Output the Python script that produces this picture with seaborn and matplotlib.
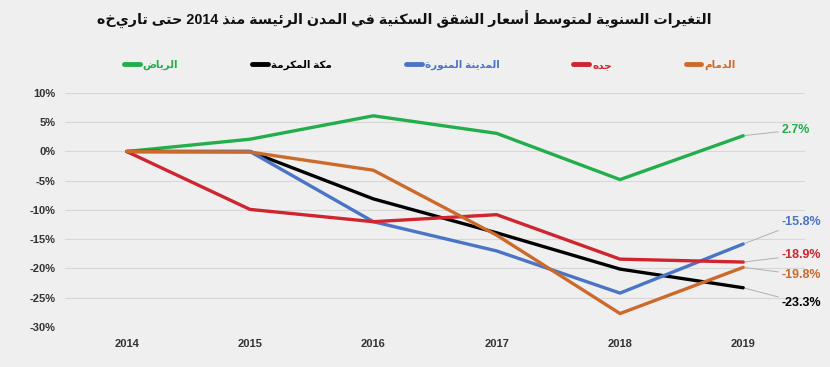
import re
import pandas as pd
import matplotlib
matplotlib.use('Agg')
import matplotlib.pyplot as plt
import seaborn as sns

# --- data ---
years = [2014, 2015, 2016, 2017, 2018, 2019]
riyadh = [0, 2.1, 6.1, 3.1, -4.8, 2.7]
makkah = [0, 0, -8.1, -13.9, -20.1, -23.3]
madinah = [0, 0, -12.0, -17.0, -24.2, -15.8]
jeddah = [0, -9.9, -12.0, -10.8, -18.4, -18.9]
dammam = [0, -0.1, -3.2, -14.3, -27.7, -19.8]

cities = ['الرياض', 'مكة المكرمة', 'المدينة المنورة', 'جده', 'الدمام']
colors = ['#22ae4b', '#000000', '#4a74c6', '#cf2530', '#cc6a2c']
end_labels = ['2.7%', '-23.3%', '-15.8%', '-18.9%', '-19.8%']
label_y = [3.7, -25.9, -12.0, -17.7, -21.1]

title = 'التغيرات السنوية لمتوسط أسعار الشقق السكنية في المدن الرئيسة منذ 2014 حتى تاريخه'

# --- tiny arabic shaper (matplotlib has no bidi/shaping) ---
ISO = {'ا': 0xFE8D, 'أ': 0xFE83, 'ب': 0xFE8F, 'ة': 0xFE93, 'ت': 0xFE95, 'ج': 0xFE9D,
       'ح': 0xFEA1, 'د': 0xFEA9, 'ذ': 0xFEAB, 'ر': 0xFEAD, 'ز': 0xFEAF, 'س': 0xFEB1,
       'ش': 0xFEB5, 'ض': 0xFEBD, 'ط': 0xFEC1, 'ع': 0xFEC9, 'غ': 0xFECD, 'ف': 0xFED1,
       'ق': 0xFED5, 'ك': 0xFED9, 'ل': 0xFEDD, 'م': 0xFEE1, 'ن': 0xFEE5, 'ه': 0xFEE9,
       'و': 0xFEED, 'ى': 0xFEEF, 'ي': 0xFEF1, 'ئ': 0xFE89}
RIGHT_ONLY = set('اأدذرزوةى')


def ar(text):
    out = []
    for i, ch in enumerate(text):
        if ch not in ISO:
            out.append(ch)
            continue
        prev = text[i - 1] if i > 0 else ''
        nxt = text[i + 1] if i + 1 < len(text) else ''
        jp = prev in ISO and prev not in RIGHT_ONLY
        jn = ch not in RIGHT_ONLY and nxt in ISO
        form = 3 if (jp and jn) else 1 if jp else 2 if jn else 0
        out.append(chr(ISO[ch] + form))
    s = ''.join(out)[::-1]
    return re.sub(r'[0-9]+', lambda m: m.group()[::-1], s)


series = [riyadh, makkah, madinah, jeddah, dammam]
df = pd.DataFrame({
    'year': years * len(cities),
    'change': sum(series, []),
    'city': [c for c in cities for _ in years],
})

sns.set_theme(style='white')
plt.rcParams['font.family'] = ['Liberation Sans', 'DejaVu Sans']
bg = '#efefef'

fig = plt.figure(figsize=(8.3, 3.67), dpi=100, facecolor=bg)
ax = fig.add_axes([0.0783, 0.109, 0.8916, 0.6376])
ax.set_facecolor(bg)

sns.lineplot(data=df, x='year', y='change', hue='city', hue_order=cities,
             palette=dict(zip(cities, colors)), linewidth=2.4, ax=ax, legend=True)

ax.set_xlim(2013.5, 2019.5)
ax.set_ylim(-30, 10)
ax.set_yticks(range(-30, 11, 5))
ax.set_yticklabels([f'{v}%' for v in range(-30, 11, 5)])
ax.set_xticks(years)
ax.grid(axis='y', color='#d8d8d8', lw=0.8)
ax.set_axisbelow(True)
for s in ax.spines.values():
    s.set_visible(False)
ax.tick_params(length=0, labelsize=8, labelcolor='#333333')
ax.tick_params(axis='y', pad=7)
ax.tick_params(axis='x', pad=9)
for t in ax.get_xticklabels() + ax.get_yticklabels():
    t.set_fontweight('bold')
ax.set_xlabel('')
ax.set_ylabel('')

# end-of-line labels with leader lines
for vals, lab, ly, c in zip(series, end_labels, label_y, colors):
    ax.annotate(lab, xy=(years[-1], vals[-1]), xytext=(2019.31, ly),
                color=c, fontsize=9, fontweight='bold', va='center', ha='left',
                annotation_clip=False,
                arrowprops=dict(arrowstyle='-', color='#b0b0b0', lw=0.7,
                                shrinkA=0, shrinkB=1))

handles, _ = ax.get_legend_handles_labels()
ax.get_legend().remove()
leg = fig.legend(handles, [ar(c) for c in cities], loc='center',
                 bbox_to_anchor=(0.518, 0.823), ncol=5, frameon=False,
                 handlelength=1.5, handletextpad=0.3, columnspacing=7.1,
                 prop={'weight': 'bold', 'size': 7.5})
for t, c in zip(leg.get_texts(), colors):
    t.set_color(c)
for h in leg.get_lines():
    h.set_linewidth(3.5)

fig.text(0.487, 0.945, ar(title), ha='center', va='center', fontsize=10.3,
         fontweight='bold', color='#111111')

fig.savefig('out.png', dpi=100, facecolor=bg)
